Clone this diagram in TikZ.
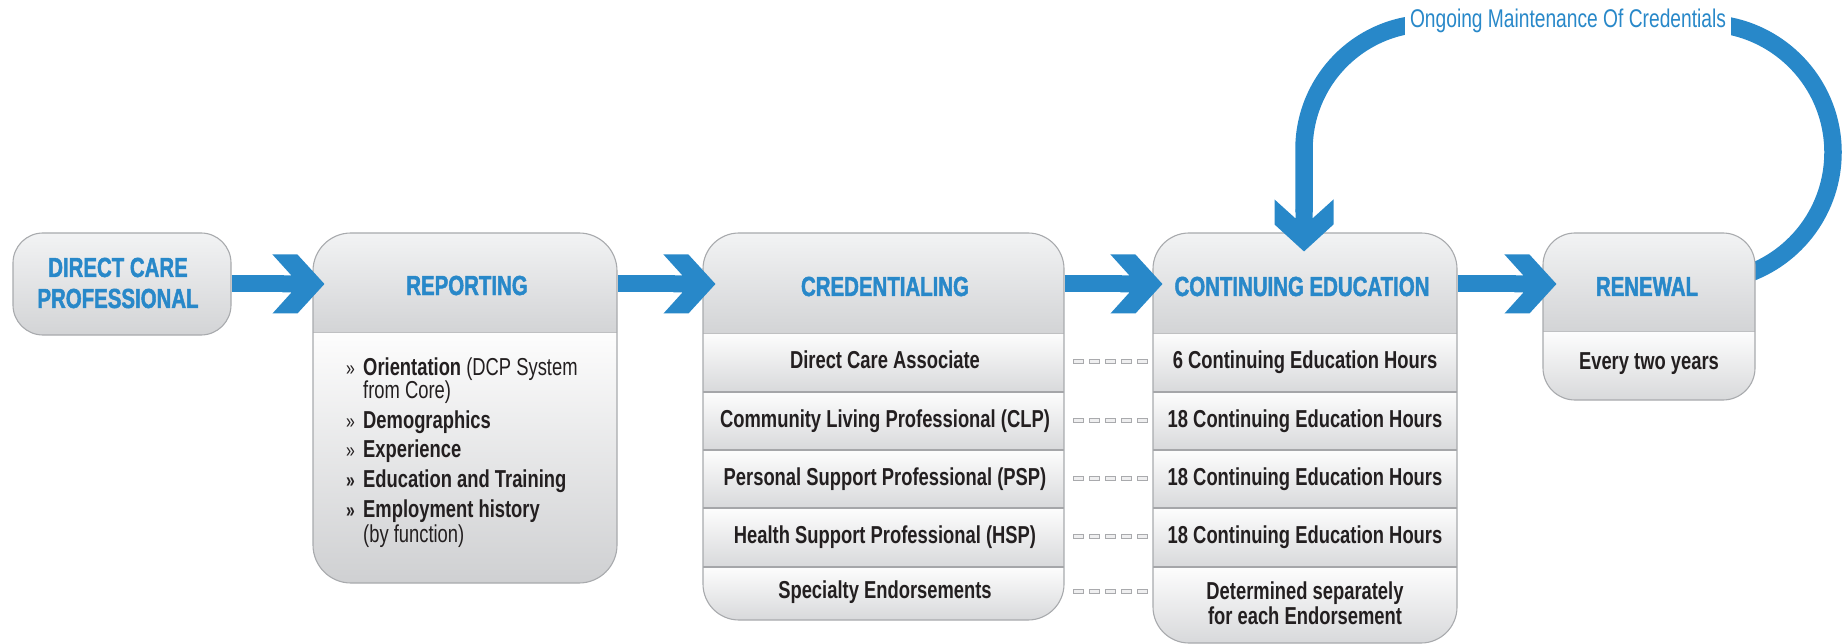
\documentclass[tikz,border=0pt]{standalone}
\usepackage{fontspec}
\setmainfont{Liberation Sans}
\newfontfamily\cond[FakeStretch=0.75]{Liberation Sans}
\newfontfamily\condheavy[FakeStretch=0.74, FakeBold=1.6]{Liberation Sans}
\usetikzlibrary{calc}
\definecolor{cblue}{HTML}{2888C9}
\definecolor{ctext}{HTML}{231F20}
\definecolor{cborder}{HTML}{A8AAAD}
\definecolor{hdtop}{HTML}{F2F3F4}
\definecolor{hdbot}{HTML}{D3D4D6}
\definecolor{dcpmid}{HTML}{D8D9DB}
\definecolor{rowtop}{HTML}{FDFDFD}
\definecolor{rowbot}{HTML}{D8D9DB}
\definecolor{bodybot}{HTML}{CFD0D2}
\definecolor{divline}{HTML}{A5A6A9}
\definecolor{hdline}{HTML}{BFC0C2}
\definecolor{dashfill}{HTML}{EFEFF0}
\definecolor{dashline}{HTML}{A9AAAD}
\tikzset{
  boxline/.style={draw=cborder, line width=1.1pt, inner sep=0pt},
  hdshade/.style={top color=hdtop, bottom color=hdbot},
  rowshade/.style={top color=rowtop, bottom color=rowbot},
  rowdiv/.style={draw=divline, line width=1.4pt},
  hddiv/.style={draw=hdline, line width=1pt},
  title/.style={font=\condheavy\bfseries\fontsize{27.6}{31}\selectfont, text=cblue, inner sep=0pt, anchor=base},
  body/.style={font=\cond\bfseries\fontsize{24.5}{27}\selectfont, text=ctext, inner sep=0pt, anchor=base},
  bodyl/.style={body, anchor=base west},
  bul/.style={font=\cond\fontsize{21}{24}\selectfont, text=ctext, inner sep=0pt, anchor=base west},
  shaft/.style={draw=cblue, line width=17pt},
  loopline/.style={draw=cblue, line width=17.5pt},
  dashbox/.style={draw=dashline, line width=0.8pt, fill=dashfill},
  chevron/.pic={\fill[cblue] (0,0) -- (-27,-29.5) -- (-52,-29.5) -- (-33,-8.5) -- (-42,-8.5) -- (-42,8.5) -- (-33,8.5) -- (-52,29.5) -- (-27,29.5) -- cycle;},
}
\begin{document}
\begin{tikzpicture}[x=1pt,y=-1pt]
\useasboundingbox (0,0) rectangle (1847,644);

% ---------- DIRECT CARE PROFESSIONAL ----------
\shade[rounded corners=30pt, top color=hdtop, middle color=dcpmid, bottom color=hdbot]
  (13,233) rectangle (231,335);
\node[boxline, rounded corners=30pt, minimum width=218pt, minimum height=102pt] (dcp) at (122,284) {};
\node[title] (dcpa) at (118,277) {DIRECT CARE};
\node[title] (dcpb) at (118,308) {PROFESSIONAL};

% ---------- REPORTING ----------
\begin{scope}
\clip[rounded corners=38pt] (313,233) rectangle (617,583);
\shade[hdshade] (313,233) rectangle (617,332);
\shade[top color=rowtop, bottom color=bodybot] (313,332) rectangle (617,583);
\draw[hddiv] (313,332) -- (617,332);
\end{scope}
\node[boxline, rounded corners=38pt, minimum width=304pt, minimum height=350pt] (rep) at (465,408) {};
\node[title] (rept) at (467,295) {REPORTING};
\node[bul] (b1) at (346,375) {»};
\node[bul] (b2) at (346,428) {»};
\node[bul] (b3) at (346,457) {»};
\node[bul, font=\cond\bfseries\fontsize{21}{24}\selectfont] (b4) at (346,487) {»};
\node[bul, font=\cond\bfseries\fontsize{21}{24}\selectfont] (b5) at (346,517) {»};
\node[bodyl] (r1) at (363,375) {Orientation \mdseries(DCP System};
\node[bodyl] (r1b) at (363,398) {\mdseries from Core)};
\node[bodyl] (r2) at (363,428) {Demographics};
\node[bodyl] (r3) at (363,457) {Experience};
\node[bodyl] (r4) at (363,487) {Education and Training};
\node[bodyl] (r5) at (363,517) {Employment history};
\node[bodyl] (r5b) at (363,542) {\mdseries(by function)};

% ---------- CREDENTIALING ----------
\begin{scope}
\clip[rounded corners=36pt] (703,233) rectangle (1064,620);
\shade[hdshade] (703,233) rectangle (1064,333);
\shade[rowshade] (703,333) rectangle (1064,392);
\shade[rowshade] (703,392) rectangle (1064,450);
\shade[rowshade] (703,450) rectangle (1064,508);
\shade[rowshade] (703,508) rectangle (1064,567);
\shade[rowshade] (703,567) rectangle (1064,620);
\draw[hddiv] (703,333) -- (1064,333);
\draw[rowdiv] (703,392) -- (1064,392);
\draw[rowdiv] (703,450) -- (1064,450);
\draw[rowdiv] (703,508) -- (1064,508);
\draw[rowdiv] (703,567) -- (1064,567);
\end{scope}
\node[boxline, rounded corners=36pt, minimum width=361pt, minimum height=387pt] (cred) at (883.5,426.5) {};
\node[title] (credt) at (885,296) {CREDENTIALING};
\node[body] (c1) at (885,368) {Direct Care Associate};
\node[body] (c2) at (885,427) {Community Living Professional (CLP)};
\node[body] (c3) at (885,485) {Personal Support Professional (PSP)};
\node[body] (c4) at (885,543) {Health Support Professional (HSP)};
\node[body] (c5) at (885,598) {Specialty Endorsements};

% ---------- CONTINUING EDUCATION ----------
\begin{scope}
\clip[rounded corners=36pt] (1153,233) rectangle (1457,643);
\shade[hdshade] (1153,233) rectangle (1457,333);
\shade[rowshade] (1153,333) rectangle (1457,392);
\shade[rowshade] (1153,392) rectangle (1457,450);
\shade[rowshade] (1153,450) rectangle (1457,508);
\shade[rowshade] (1153,508) rectangle (1457,567);
\shade[rowshade] (1153,567) rectangle (1457,643);
\draw[hddiv] (1153,333) -- (1457,333);
\draw[rowdiv] (1153,392) -- (1457,392);
\draw[rowdiv] (1153,450) -- (1457,450);
\draw[rowdiv] (1153,508) -- (1457,508);
\draw[rowdiv] (1153,567) -- (1457,567);
\end{scope}
\node[boxline, rounded corners=36pt, minimum width=304pt, minimum height=410pt] (ce) at (1305,438) {};
\node[title] (cet) at (1302,296) {CONTINUING EDUCATION};
\node[body] (e1) at (1305,368) {6 Continuing Education Hours};
\node[body] (e2) at (1305,427) {18 Continuing Education Hours};
\node[body] (e3) at (1305,485) {18 Continuing Education Hours};
\node[body] (e4) at (1305,543) {18 Continuing Education Hours};
\node[body] (e5) at (1305,599) {Determined separately};
\node[body] (e5b) at (1305,624) {for each Endorsement};

% ---------- dashed links between rows (small boxes from cred row to CE row) ----------
\foreach \r in {1,...,5}{
  \foreach \i in {0,...,4}{
    \draw[dashbox] ($(cred.east |- c\r.base)+(8.5+\i*16,-8.5)$) rectangle ++(10.5,4);
  }
}

% ---------- loop: Ongoing Maintenance Of Credentials ----------
\draw[loopline] ($(ce.north)+(-1,-20)$) -- ++(0,-63)
  arc[start angle=180, end angle=270, radius=126] -- ++(274,0)
  arc[start angle=270, end angle=432, radius=129];
\node[font=\cond\fontsize{25.6}{28}\selectfont, text=cblue, fill=white, inner xsep=5pt, inner ysep=0pt,
      text height=24pt, text depth=10pt, anchor=base] (lbl) at (1568,28) {Ongoing Maintenance Of Credentials};

% ---------- RENEWAL ----------
\begin{scope}
\clip[rounded corners=32pt] (1543,233) rectangle (1755,400);
\shade[hdshade] (1543,233) rectangle (1755,331);
\shade[rowshade] (1543,331) rectangle (1755,400);
\draw[hddiv] (1543,331) -- (1755,331);
\end{scope}
\node[boxline, rounded corners=32pt, minimum width=212pt, minimum height=167pt] (ren) at (1649,316.5) {};
\node[title] (rent) at (1647,296) {RENEWAL};
\node[body] (ren1) at (1649,369) {Every two years};

% ---------- main flow arrows ----------
\coordinate (t1) at ([xshift=12pt]rep.west |- dcp.center);
\coordinate (t2) at ([xshift=13pt]cred.west |- dcp.center);
\coordinate (t3) at ([xshift=10pt]ce.west |- dcp.center);
\coordinate (t4) at ([xshift=14pt]ren.west |- dcp.center);
\draw[shaft] (dcp.east) -- ($(t1)+(-40,0)$);
\draw[shaft] (rep.east |- dcp.center) -- ($(t2)+(-40,0)$);
\draw[shaft] (cred.east |- dcp.center) -- ($(t3)+(-40,0)$);
\draw[shaft] (ce.east |- dcp.center) -- ($(t4)+(-40,0)$);
\pic at (t1) {chevron};
\pic at (t2) {chevron};
\pic at (t3) {chevron};
\pic at (t4) {chevron};
\pic[rotate=-90] at ($(ce.north)+(-1,19)$) {chevron};
\end{tikzpicture}
\end{document}
